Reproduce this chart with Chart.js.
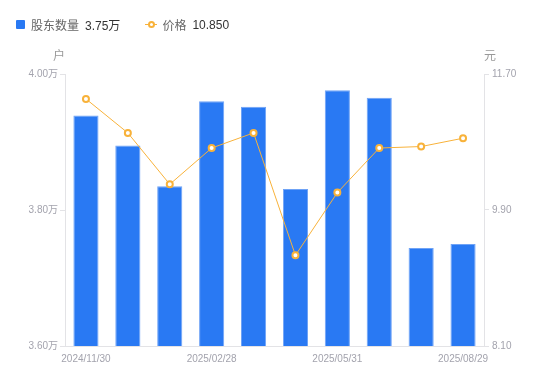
<!DOCTYPE html>
<html>
<head>
<meta charset="utf-8">
<script src="https://cdn.jsdelivr.net/npm/chart.js@4/dist/chart.umd.min.js"></script>
<style>
    html, body { margin: 0; padding: 0; background: #fff; }
    #wrap { position: relative; width: 550px; height: 381px; }
    #legend { position: absolute; left: 16px; top: 16px; font: 12px "Liberation Sans", "Noto Sans CJK SC", sans-serif; color: #666; display: flex; align-items: center; }
    .item { display: flex; align-items: center; margin-right: 25px; }
    .val { color: #333; margin-left: 6px; }
    .sq { width: 9px; height: 9px; background: #2979f3; border-radius: 1px; margin-right: 6px; }
    .ln { position: relative; width: 12px; height: 9px; margin-right: 5px; }
    .ln:before { content: ''; position: absolute; left: 0; right: 0; top: 4px; height: 1px; background: #f8b23a; }
    .ln:after { content: ''; position: absolute; left: 3px; top: 1px; width: 3px; height: 3px; border: 2px solid #f8b23a; border-radius: 50%; background: #fff; }
</style>
</head>
<body>
<div id="wrap">
    <canvas id="c" width="550" height="381"></canvas>
    <div id="legend">
        <div class="item"><span class="sq"></span>股东数量<span class="val">3.75万</span></div>
        <div class="item"><span class="ln"></span>价格<span class="val">10.850</span></div>
    </div>
</div>
<script>
var dates = ['2024/11/30', '2024/12/31', '2025/01/27', '2025/02/28', '2025/03/31',
             '2025/04/30', '2025/05/31', '2025/06/30', '2025/07/31', '2025/08/29'];
var holders = [3.939, 3.895, 3.835, 3.960, 3.952, 3.831, 3.976, 3.965, 3.744, 3.750]; // 万户
var prices = [11.37, 10.92, 10.24, 10.72, 10.92, 9.30, 10.13, 10.72, 10.74, 10.85];
var leftTicks = [3.60, 3.80, 4.00];
var rightTicks = [8.10, 9.90, 11.70];

var tickColor = '#a3a3ad';
var axisColor = '#e3e3e6';
var font = { family: '"Liberation Sans", "Noto Sans CJK SC", sans-serif', size: 10 };

// unit labels above the two y axes
var unitLabels = {
    id: 'unitLabels',
    afterDraw: function (chart) {
        var ctx = chart.ctx;
        ctx.save();
        ctx.font = '12px "Liberation Sans", "Noto Sans CJK SC", sans-serif';
        ctx.fillStyle = '#999';
        ctx.textAlign = 'center';
        ctx.textBaseline = 'middle';
        ctx.fillText('户', 59, 57);
        ctx.fillText('元', 490, 57);
        ctx.restore();
    }
};

new Chart(document.getElementById('c').getContext('2d'), {
    data: {
        labels: dates,
        datasets: [{
            type: 'line',
            label: '价格',
            data: prices,
            yAxisID: 'y1',
            borderColor: '#f8b23a',
            borderWidth: 1,
            pointRadius: 3,
            pointBorderWidth: 2,
            pointBackgroundColor: '#fff',
            pointBorderColor: '#f8b23a',
            tension: 0,
            order: 0
        }, {
            type: 'bar',
            label: '股东数量',
            data: holders,
            yAxisID: 'y',
            backgroundColor: '#2979f3',
            borderColor: '#6fa3f6',
            borderWidth: 1,
            categoryPercentage: 0.6,
            barPercentage: 1,
            order: 1
        }]
    },
    options: {
        responsive: false,
        animation: false,
        layout: { padding: { top: 74, left: 0, right: 0, bottom: 0 } },
        plugins: { legend: { display: false }, tooltip: { enabled: false } },
        scales: {
            x: {
                grid: { display: false, drawTicks: false },
                border: { color: axisColor },
                ticks: {
                    color: tickColor, font: font, maxRotation: 0, autoSkip: false, padding: 7,
                    callback: function (v, i) { return i % 3 === 0 ? dates[i] : ''; }
                },
                afterFit: function (s) { s.height = 35; }
            },
            y: {
                position: 'left',
                min: 3.6, max: 4.0,
                afterBuildTicks: function (s) { s.ticks = leftTicks.map(function (v) { return { value: v }; }); },
                grid: { drawOnChartArea: false, tickLength: 5, color: axisColor },
                border: { color: axisColor },
                ticks: { color: tickColor, font: font, padding: 2,
                    callback: function (v) { return v.toFixed(2) + '万'; } },
                afterFit: function (s) { s.width = 65; }
            },
            y1: {
                position: 'right',
                min: 8.1, max: 11.7,
                afterBuildTicks: function (s) { s.ticks = rightTicks.map(function (v) { return { value: v }; }); },
                grid: { drawOnChartArea: false, tickLength: 5, color: axisColor },
                border: { color: axisColor },
                ticks: { color: tickColor, font: font, padding: 3,
                    callback: function (v) { return v.toFixed(2); } },
                afterFit: function (s) { s.width = 66; }
            }
        }
    },
    plugins: [unitLabels]
});
</script>
</body>
</html>
